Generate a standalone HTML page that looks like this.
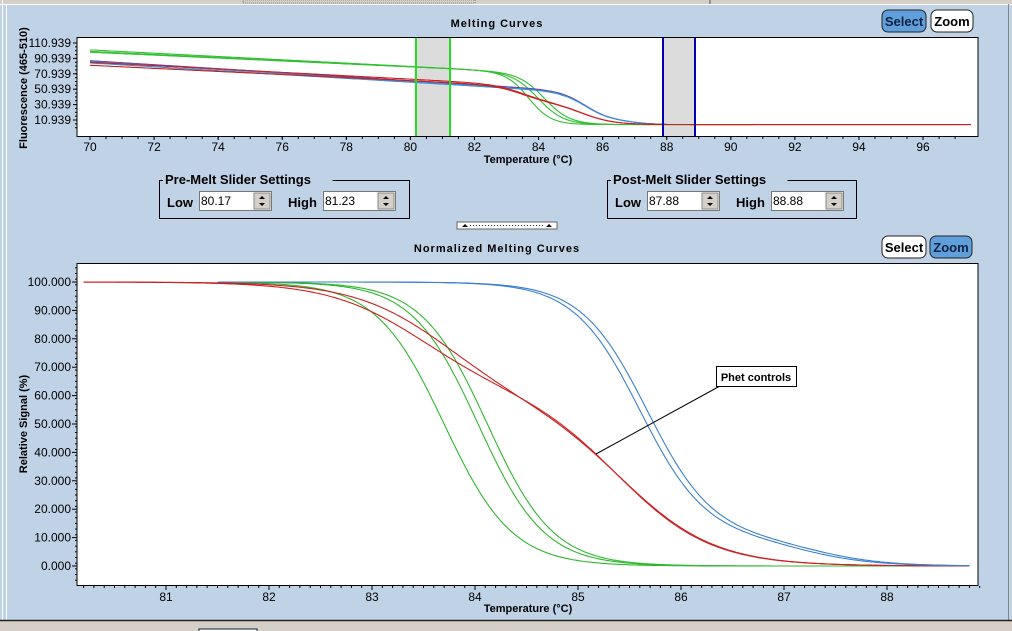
<!DOCTYPE html>
<html><head><meta charset="utf-8"><style>
html,body{margin:0;padding:0;width:1012px;height:631px;overflow:hidden;background:#c0d3e6;font-family:"Liberation Sans",sans-serif}
</style></head><body>
<svg id="s" width="1012" height="631" xmlns="http://www.w3.org/2000/svg" font-family="Liberation Sans, sans-serif">
<rect width="1012" height="631" fill="#c0d3e6"/>
<rect x="0" y="0" width="1012" height="4" fill="#d4d0c8"/>
<line x1="0" y1="4.5" x2="1012" y2="4.5" stroke="#fff"/>
<rect x="243" y="0" width="232" height="3" fill="#d4d0c8" stroke="#444" stroke-width="0.6" stroke-dasharray="1,1"/>
<line x1="710" y1="0" x2="710" y2="4" stroke="#555"/>
<line x1="2.5" y1="0" x2="2.5" y2="620" stroke="#fff"/>
<line x1="6.5" y1="4" x2="6.5" y2="620" stroke="#fff"/>
<line x1="1008.5" y1="4" x2="1008.5" y2="620" stroke="#888"/>
<rect x="0" y="621" width="1012" height="10" fill="#d4d0c8"/>
<line x1="0" y1="620.5" x2="1012" y2="620.5" stroke="#222" stroke-width="1.5"/>
<rect x="199" y="629" width="58" height="4" fill="#fff" stroke="#123" />

<text x="497" y="27" font-size="11" font-weight="bold" text-anchor="middle" letter-spacing="1">Melting Curves</text>
<rect x="882" y="10" width="44" height="22" rx="6" fill="#5fa0dc" stroke="#222"/>
<text x="904" y="26" font-size="13" font-weight="bold" text-anchor="middle" fill="#102040">Select</text>
<rect x="931" y="10" width="42" height="22" rx="6" fill="#fff" stroke="#222"/>
<text x="952" y="26" font-size="13" font-weight="bold" text-anchor="middle">Zoom</text>
<rect x="77" y="37.5" width="901" height="99" fill="#fff" stroke="#000"/>
<rect x="416" y="38" width="34" height="98" fill="#dcdcdc"/>
<rect x="663" y="38" width="32" height="98" fill="#dcdcdc"/>
<g id="topc"></g>
<line x1="416" y1="38" x2="416" y2="136" stroke="#22dd22" stroke-width="2"/>
<line x1="450" y1="38" x2="450" y2="136" stroke="#22dd22" stroke-width="2"/>
<line x1="663" y1="38" x2="663" y2="136" stroke="#0000b0" stroke-width="2"/>
<line x1="695" y1="38" x2="695" y2="136" stroke="#0000b0" stroke-width="2"/>
<g id="topax" font-size="12"></g>
<text x="528" y="163" font-size="11" font-weight="bold" text-anchor="middle">Temperature (°C)</text>
<text transform="translate(27,88) rotate(-90)" font-size="11" font-weight="bold" text-anchor="middle">Fluorescence (465-510)</text>

<g id="sl"></g>
<rect x="457" y="222" width="100" height="7" fill="#fff" stroke="#666"/>
<line x1="470" y1="225.5" x2="544" y2="225.5" stroke="#333" stroke-dasharray="1,2"/>
<path d="M462,227 l3,-3 l3,3z M546,227 l3,-3 l3,3z" fill="#000"/>

<text x="497" y="252" font-size="11" font-weight="bold" text-anchor="middle" letter-spacing="1">Normalized Melting Curves</text>
<rect x="882" y="236" width="44" height="22" rx="6" fill="#fff" stroke="#222"/>
<text x="904" y="252" font-size="13" font-weight="bold" text-anchor="middle">Select</text>
<rect x="930" y="236" width="42" height="22" rx="6" fill="#5fa0dc" stroke="#222"/>
<text x="951" y="252" font-size="13" font-weight="bold" text-anchor="middle" fill="#102040">Zoom</text>
<rect x="77" y="263.5" width="901" height="322" fill="#fff" stroke="#000"/>
<g id="botc"></g>
<g id="botax" font-size="12"></g>
<text x="528" y="612" font-size="11" font-weight="bold" text-anchor="middle">Temperature (°C)</text>
<text transform="translate(27,424) rotate(-90)" font-size="11" font-weight="bold" text-anchor="middle">Relative Signal (%)</text>
<line x1="720" y1="386" x2="596" y2="454" stroke="#000"/>
<rect x="716.5" y="366.5" width="80" height="20" fill="#fff" stroke="#000"/>
<text x="756" y="381" font-size="11" font-weight="bold" text-anchor="middle">Phet controls</text>
</svg>
<script>
var NS="http://www.w3.org/2000/svg";
function el(p,t,a,txt){var e=document.createElementNS(NS,t);for(var k in a)e.setAttribute(k,a[k]);if(txt!=null)e.textContent=txt;document.getElementById(p).appendChild(e);return e;}
function L(T,c,s){return 1/(1+Math.exp((T-c)/s));}
var tx=function(T){return 90+(T-70)*32.04;}, ty=function(v){return 120-(v-10.939)*0.77;};
for(var t=70;t<=96;t+=2){el("topax","text",{x:tx(t),y:151,"text-anchor":"middle"},t);el("topax","line",{x1:tx(t),y1:137,x2:tx(t),y2:140,stroke:"#000"});}
for(var t=70.5;t<97.5;t+=0.5){el("topax","line",{x1:tx(t),y1:137,x2:tx(t),y2:139,stroke:"#000"});}
for(var v=10.939;v<=111;v+=20){el("topax","text",{x:71,y:ty(v)+4,"text-anchor":"end"},v.toFixed(3));el("topax","line",{x1:73,y1:ty(v),x2:77,y2:ty(v),stroke:"#000"});}
for(var v=0.939;v<=111;v+=5){el("topax","line",{x1:75,y1:ty(v),x2:77,y2:ty(v),stroke:"#000"});}
function topCurve(a,b,c,s,col,tend,extra){var d="";for(var T=70;T<=tend;T+=0.05){var v=5+(a-b*(T-70)-5)*(extra?extra(T):L(T,c,s));d+=(d?"L":"M")+tx(T).toFixed(1)+","+ty(v).toFixed(1);}el("topc","path",{d:d,fill:"none",stroke:col,"stroke-width":1.1});}
topCurve(102,2.15,84.0,0.4,"#30c030",90.7);
topCurve(100,2.0,84.2,0.4,"#30c030",90.7);
topCurve(99,1.9,83.7,0.35,"#30c030",90.7);
var blue=function(T){return 0.88*L(T,85.5,0.4)+0.12*L(T,87.0,0.35);};
var red=function(T){return 0.4*L(T,83.5,0.45)+0.6*L(T,85.4,0.5);};
topCurve(88,2.6,0,1,"#7030a0",88,blue);
topCurve(87,2.6,0,1,"#3a8fd8",88,blue);
topCurve(85,2.5,0,1,"#3a8fd8",88,blue);
topCurve(82,2.0,0,1,"#cc2020",97.5,red);
topCurve(86,2.2,0,1,"#cc2020",97.5,red);
var bx=function(T){return 166+(T-81)*103;}, by=function(v){return 566-v*2.84;};
for(var t=81;t<=88;t++){el("botax","text",{x:bx(t),y:601,"text-anchor":"middle"},t);el("botax","line",{x1:bx(t),y1:586,x2:bx(t),y2:590,stroke:"#000"});}
for(var t=80.2;t<88.9;t+=0.1){el("botax","line",{x1:bx(t),y1:586,x2:bx(t),y2:588,stroke:"#000"});}
for(var v=0;v<=100;v+=10){el("botax","text",{x:71,y:by(v)+4,"text-anchor":"end"},v.toFixed(3));el("botax","line",{x1:72,y1:by(v),x2:77,y2:by(v),stroke:"#000"});}
for(var v=-5;v<=105;v+=2){el("botax","line",{x1:75,y1:by(v),x2:77,y2:by(v),stroke:"#000"});}
function botCurve(f,col,t0){var d="";for(var T=t0;T<=88.8;T+=0.02){var v=100*f(T);d+=(d?"L":"M")+bx(T).toFixed(1)+","+by(v).toFixed(1);}el("botc","path",{d:d,fill:"none",stroke:col,"stroke-width":1.1});}
botCurve(function(T){return L(T,83.7,0.33);},"#2eb82e",81.5);
botCurve(function(T){return L(T,84.03,0.32);},"#2eb82e",81.5);
botCurve(function(T){return L(T,84.12,0.32);},"#2eb82e",81.5);
botCurve(function(T){return 0.38*L(T,83.45,0.45)+0.62*L(T,85.4,0.45);},"#cc2020",80.2);
botCurve(function(T){return 0.42*L(T,83.7,0.45)+0.58*L(T,85.45,0.45);},"#cc2020",80.2);
botCurve(function(T){return 0.9*L(T,85.6,0.32)+0.1*L(T,87.2,0.35);},"#3a80d0",81.5);
botCurve(function(T){return 0.9*L(T,85.67,0.32)+0.1*L(T,87.3,0.35);},"#3a80d0",81.5);
function slider(x,w,title,lo,hi){
 el("sl","rect",{x:x+0.5,y:180.5,width:w,height:38,fill:"none",stroke:"#000"});
 var tw=title.length*6.9;
 el("sl","rect",{x:x+4,y:172,width:tw+4,height:14,fill:"#c0d3e6"});
 el("sl","text",{x:x+6,y:184,"font-size":13,"font-weight":"bold"},title);
 el("sl","text",{x:x+8,y:207,"font-size":13,"font-weight":"bold"},"Low");
 el("sl","rect",{x:x+40.5,y:191.5,width:72,height:19,fill:"#fff",stroke:"#777"});
 el("sl","text",{x:x+42,y:205,"font-size":12},lo);
 el("sl","rect",{x:x+95,y:193,width:16,height:16,fill:"#d4d0c8",stroke:"#888"});
 el("sl","path",{d:"M"+(x+100)+",199 l3,-3 l3,3z M"+(x+100)+",203 l3,3 l3,-3z",fill:"#000"});
 el("sl","text",{x:x+129,y:207,"font-size":13,"font-weight":"bold"},"High");
 el("sl","rect",{x:x+164.5,y:191.5,width:72,height:19,fill:"#fff",stroke:"#777"});
 el("sl","text",{x:x+166,y:205,"font-size":12},hi);
 el("sl","rect",{x:x+219,y:193,width:16,height:16,fill:"#d4d0c8",stroke:"#888"});
 el("sl","path",{d:"M"+(x+224)+",199 l3,-3 l3,3z M"+(x+224)+",203 l3,3 l3,-3z",fill:"#000"});
}
slider(159,250,"Pre-Melt Slider Settings","80.17","81.23");
slider(607,249,"Post-Melt Slider Settings","87.88","88.88");
</script>
</body></html>
